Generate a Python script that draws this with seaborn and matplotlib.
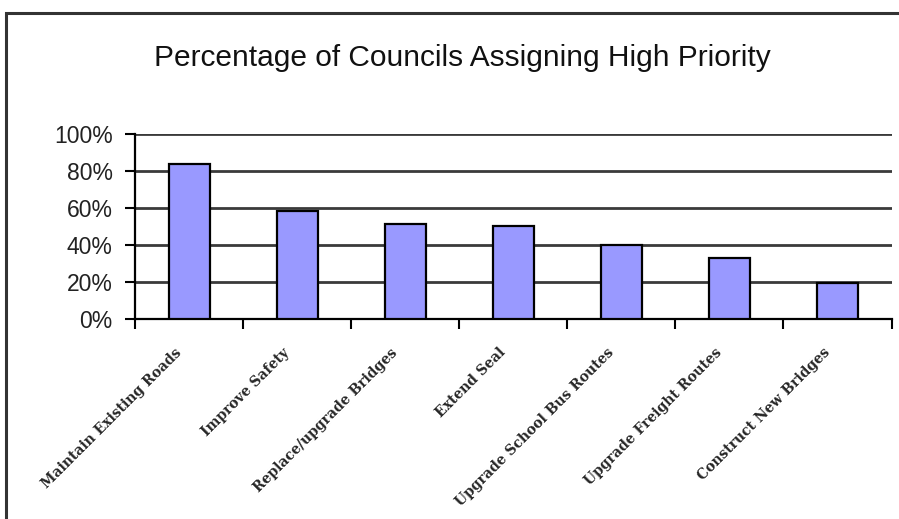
import numpy as np
import pandas as pd
import matplotlib
matplotlib.use("Agg")
import matplotlib.pyplot as plt
import matplotlib.transforms as mtransforms
import seaborn as sns
from matplotlib.patches import Rectangle

categories = [
    "Maintain Existing Roads",
    "Improve Safety",
    "Replace/upgrade Bridges",
    "Extend Seal",
    "Upgrade School Bus Routes",
    "Upgrade Freight Routes",
    "Construct New Bridges",
]
high_priority_pct = [84, 58, 51, 50, 40, 33, 19]
y_ticks = [0, 20, 40, 60, 80, 100]
y_tick_labels = ["0%", "20%", "40%", "60%", "80%", "100%"]

sns.set_theme(style="white")
plt.rcParams["font.family"] = ["Liberation Sans", "DejaVu Sans"]

df = pd.DataFrame({"task": categories, "pct": high_priority_pct})

fig = plt.figure(figsize=(8.99, 5.19), dpi=100)
ax = fig.add_axes([135 / 899, 1 - 318.5 / 519, (891.5 - 135) / 899, (318.5 - 134) / 519])

sns.barplot(data=df, x="task", y="pct", color="#9999FF", saturation=1,
            width=0.38, edgecolor="black", linewidth=1.6, ax=ax, zorder=3)

n = len(categories)
ax.set_xlim(-0.5, n - 0.5)
ax.set_ylim(0, 100)
ax.set_xlabel("")
ax.set_ylabel("")

# horizontal gridlines
for v in y_ticks[1:]:
    ax.axhline(v, color="#3a3a3a", lw=2.0, zorder=1)

ax.set_yticks(y_ticks)
ax.set_yticklabels(y_tick_labels, fontsize=16.5, color="#222222")
ax.tick_params(axis="y", direction="out", length=7, width=1.5, color="black", pad=9, left=True)

ax.set_xticks(np.arange(n))
ax.set_xticklabels(categories, rotation=45, ha="right", va="center",
                   rotation_mode="anchor", fontsize=10, fontweight="bold",
                   family="DejaVu Serif")
ax.tick_params(axis="x", which="major", length=0, pad=23)
shift = mtransforms.ScaledTranslation(-10 / 100, 0, fig.dpi_scale_trans)
for lbl in ax.get_xticklabels():
    lbl.set_transform(lbl.get_transform() + shift)
ax.set_xticks(np.arange(-0.5, n), minor=True)
ax.tick_params(axis="x", which="minor", direction="out", length=7, width=1.5,
               color="black", bottom=True)

for side in ["top", "right"]:
    ax.spines[side].set_visible(False)
ax.spines["left"].set_color("black")
ax.spines["left"].set_linewidth(1.6)
ax.spines["bottom"].set_color("black")
ax.spines["bottom"].set_linewidth(1.6)

fig.text(462 / 899, 1 - 58 / 519, "Percentage of Councils Assigning High Priority",
         ha="center", va="center", fontsize=21.5, color="#111111")

# chart-area frame
fig.patches.append(Rectangle((6 / 899, -0.05), 1.2, 1 - 13 / 519 + 0.05,
                             transform=fig.transFigure, fill=False,
                             edgecolor="#333333", lw=2.2))

fig.savefig("out.png", dpi=100)
